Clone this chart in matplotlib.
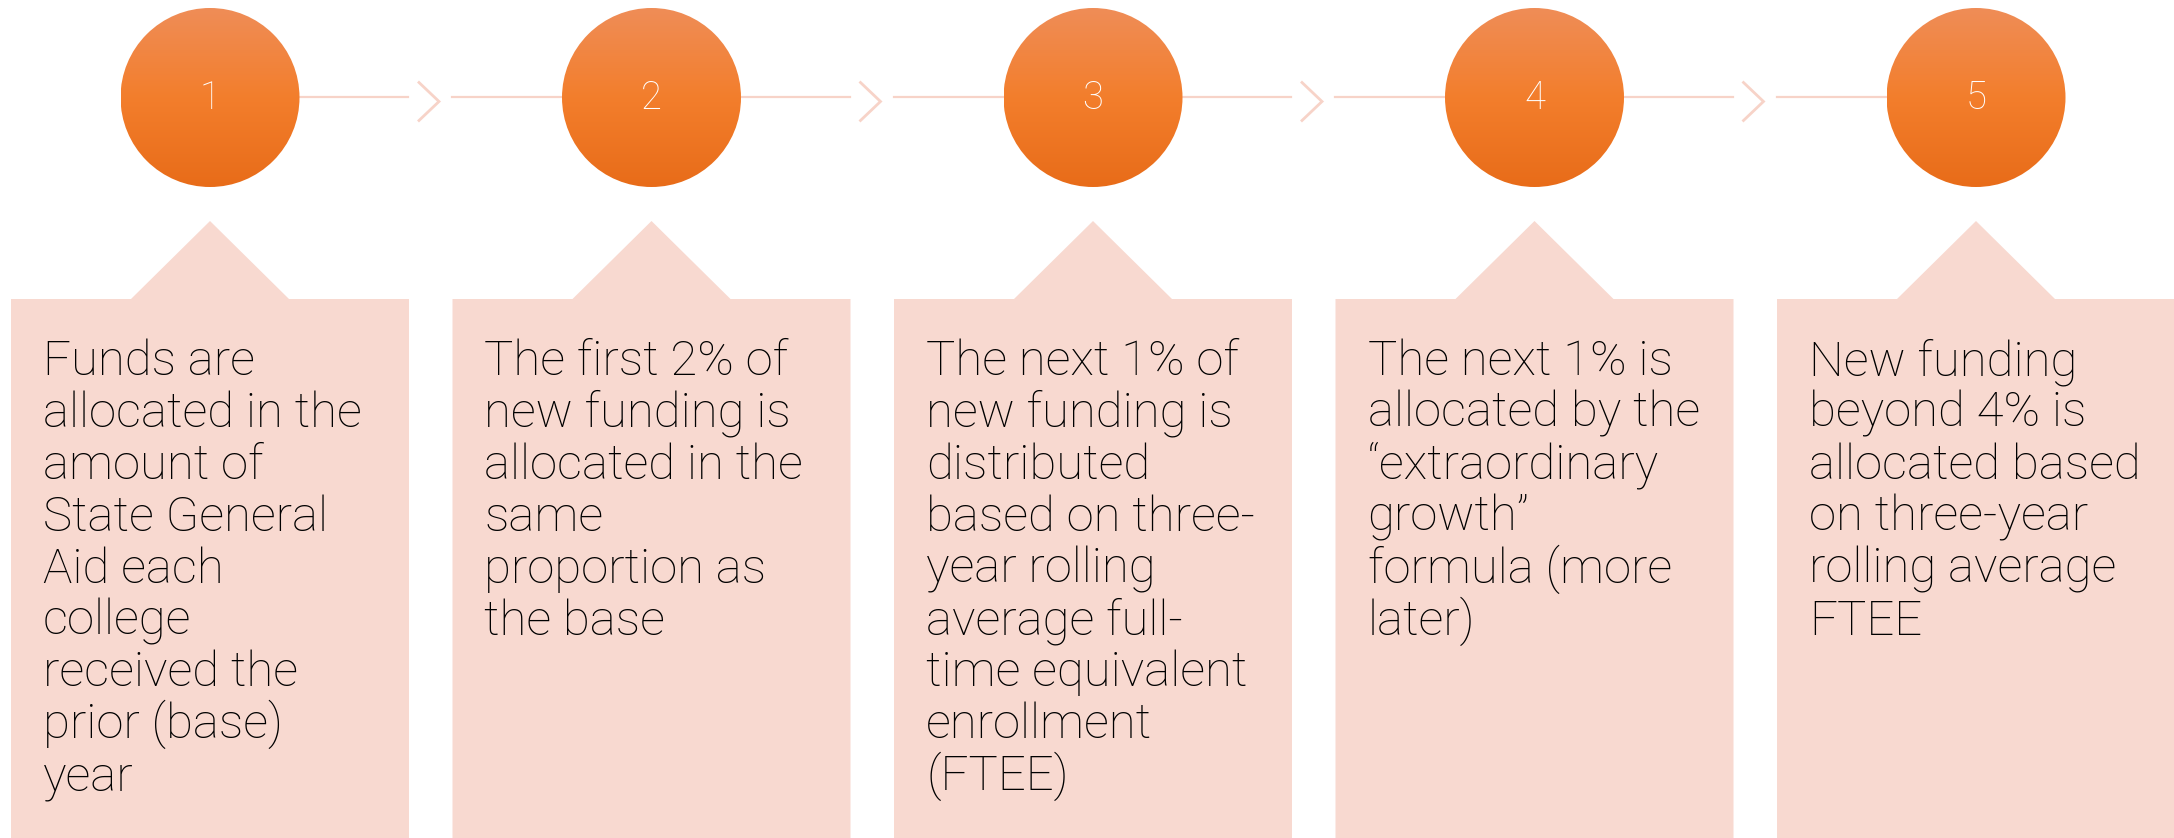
import matplotlib
matplotlib.use("Agg")
import matplotlib.pyplot as plt
import numpy as np
from matplotlib.patches import Circle, Polygon
from matplotlib.colors import LinearSegmentedColormap

# step numbers and the text in each box, one entry per line as in the slide
steps = ["1", "2", "3", "4", "5"]
box_lines = [
    ["Funds are", "allocated in the", "amount of", "State General", "Aid each",
     "college", "received the", "prior (base)", "year"],
    ["The first 2% of", "new funding is", "allocated in the", "same",
     "proportion as", "the base"],
    ["The next 1% of", "new funding is", "distributed", "based on three-",
     "year rolling", "average full-", "time equivalent", "enrollment", "(FTEE)"],
    ["The next 1% is", "allocated by the", "\u201cextraordinary", "growth\u201d",
     "formula (more", "later)"],
    ["New funding", "beyond 4% is", "allocated based", "on three-year",
     "rolling average", "FTEE"],
]

W, H = 2174, 838
box_col = "#F8D9D0"
line_col = "#F7D3C8"
grad = LinearSegmentedColormap.from_list("orange", ["#EF8D57", "#F37E2C", "#E86C19"])

fig = plt.figure(figsize=(W / 100, H / 100), dpi=100)
ax = fig.add_axes([0, 0, 1, 1])
ax.set_xlim(0, W)
ax.set_ylim(H, 0)
ax.axis("off")

x0, step_dx = 210, 441.5
cy, r = 97.5, 89.5
half_box = 199
box_top, tip_y, tip_w = 299, 221, 79

for i, (num, lines) in enumerate(zip(steps, box_lines)):
    cx = x0 + i * step_dx

    # circle with vertical gradient
    circ = Circle((cx, cy), r, facecolor="none", edgecolor="none")
    ax.add_patch(circ)
    g = np.linspace(0, 1, 256).reshape(-1, 1)
    im = ax.imshow(g, cmap=grad, extent=(cx - r, cx + r, cy + r, cy - r),
                   aspect="auto", zorder=3, interpolation="bilinear")
    im.set_clip_path(circ)
    ax.text(cx, cy + 1, num, color="white", fontsize=27.5, family="Roboto",
            fontweight="light", ha="center", va="center", zorder=4)

    # connector and chevron to next step
    if i < len(steps) - 1:
        ax.plot([cx + r, cx + 198], [cy, cy], color=line_col, lw=1.6, zorder=1)
        ax.plot([cx + 209, cx + 229, cx + 209], [cy - 15, cy + 4, cy + 23],
                color=line_col, lw=2, zorder=1, solid_joinstyle="miter")
        ax.plot([cx + 242, cx + step_dx - r], [cy, cy], color=line_col, lw=1.6, zorder=1)

    # callout box
    left, right = cx - half_box, cx + half_box
    pts = [(left, H + 5), (left, box_top), (cx - tip_w, box_top), (cx, tip_y),
           (cx + tip_w, box_top), (right, box_top), (right, H + 5)]
    ax.add_patch(Polygon(pts, closed=True, facecolor=box_col, edgecolor="none", zorder=2))

    for k, s in enumerate(lines):
        ax.text(left + 32, 375 + k * 51.9, s, fontsize=35.4, family="Roboto",
                fontweight="light", color="black", ha="left", va="baseline", zorder=3)

fig.savefig("out.png", dpi=100)
